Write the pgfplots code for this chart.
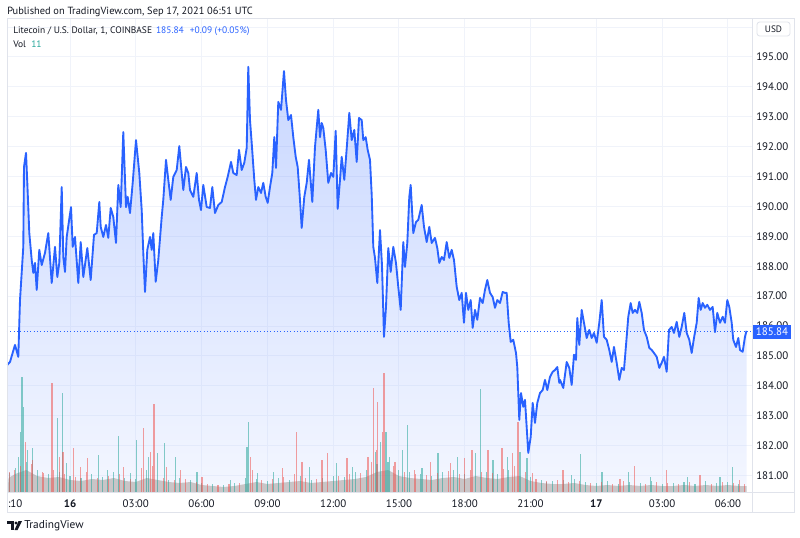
\documentclass[border=0pt]{standalone}
\usepackage{fontspec}
\setmainfont{PT Sans}
\usepackage{pgfplots}
\pgfplotsset{compat=1.18}
\usepackage{pgfplotstable}

\definecolor{tvblue}{RGB}{41,98,255}
\definecolor{txt}{RGB}{19,23,34}
\definecolor{gridc}{RGB}{240,243,250}
\definecolor{framec}{RGB}{224,227,235}
\definecolor{volup}{RGB}{38,166,154}
\definecolor{voldn}{RGB}{239,83,80}
\definecolor{areabot}{RGB}{211,223,255}

\pgfplotstableread{
h p
-2.859 184.70
-2.736 184.80
-2.508 185.37
-2.358 184.97
-2.280 186.87
-2.130 188.65
-2.098 191.32
-2.006 191.79
-1.947 190.79
-1.856 189.11
-1.746 188.21
-1.674 187.78
-1.596 188.11
-1.518 187.21
-1.400 188.55
-1.290 188.04
-1.140 188.45
-0.990 189.11
-0.834 187.44
-0.684 188.65
-0.579 187.64
-0.488 188.11
-0.378 190.65
-0.306 188.31
-0.228 187.81
-0.150 188.98
0.046 189.98
0.123 188.65
0.228 188.98
0.378 187.44
0.488 188.81
0.606 187.64
0.789 188.61
0.944 187.54
1.094 189.05
1.218 189.11
1.336 190.15
1.400 189.32
1.518 188.98
1.642 189.38
1.746 188.95
1.856 189.95
1.974 189.65
2.098 188.78
2.202 190.72
2.312 189.98
2.430 192.49
2.554 189.98
2.631 190.32
2.736 189.78
2.859 190.79
3.010 192.22
3.160 191.12
3.270 189.88
3.342 188.45
3.420 187.14
3.525 188.55
3.648 188.98
3.726 188.55
3.798 189.11
3.908 187.48
4.026 188.21
4.182 189.65
4.254 190.22
4.378 191.56
4.482 190.89
4.592 190.22
4.710 190.99
4.866 191.22
4.984 192.02
5.094 191.12
5.166 190.55
5.290 191.32
5.394 191.12
5.472 190.55
5.622 190.32
5.778 191.12
5.882 190.22
5.974 189.88
6.078 190.72
6.234 189.98
6.384 189.95
6.489 190.65
6.612 189.78
6.762 190.05
6.918 190.15
7.068 190.65
7.191 190.99
7.342 191.49
7.446 191.12
7.602 191.05
7.706 191.89
7.830 191.22
7.948 191.46
8.058 191.96
8.130 194.67
8.208 192.89
8.286 192.12
8.404 190.89
8.482 190.22
8.586 190.65
8.710 190.45
8.814 190.79
8.924 190.32
9.015 190.12
9.120 190.65
9.225 191.12
9.316 192.32
9.394 191.29
9.498 193.50
9.622 193.23
9.758 194.53
9.850 193.56
9.954 192.89
10.078 193.06
10.182 192.32
10.292 191.66
10.383 191.32
10.488 190.22
10.566 189.28
10.684 190.32
10.794 190.79
10.898 191.56
11.049 190.15
11.172 191.99
11.322 193.23
11.400 192.32
11.478 192.79
11.550 192.63
11.660 191.89
11.778 190.79
11.902 191.12
12.006 190.99
12.116 192.53
12.207 189.92
12.312 190.89
12.390 191.66
12.508 190.89
12.631 192.06
12.736 193.13
12.846 192.22
12.964 192.56
13.074 191.49
13.178 192.96
13.302 192.89
13.374 192.22
13.484 192.32
13.575 191.89
13.680 191.56
13.758 190.39
13.830 188.65
13.908 188.28
14.013 187.44
14.136 189.21
14.227 188.04
14.318 185.64
14.410 186.64
14.514 188.61
14.624 187.81
14.742 188.65
14.866 188.11
14.970 187.31
15.080 186.54
15.198 188.81
15.276 187.98
15.381 188.78
15.472 190.32
15.536 190.72
15.654 189.11
15.778 189.48
15.882 189.55
16.038 190.05
16.142 189.32
16.266 188.81
16.384 189.32
16.494 188.78
16.644 188.95
16.749 188.61
16.840 188.11
16.950 188.31
17.054 188.21
17.178 188.81
17.296 188.28
17.406 188.55
17.510 188.21
17.634 187.31
17.752 186.87
17.862 187.11
17.966 186.11
18.058 187.11
18.162 186.54
18.272 186.87
18.363 185.94
18.468 186.54
18.573 186.21
18.696 186.94
18.819 186.77
18.924 187.21
19.029 187.54
19.152 187.11
19.275 186.97
19.380 186.61
19.485 186.87
19.608 186.77
19.731 187.14
19.836 187.11
19.914 187.11
20.005 186.11
20.096 185.47
20.214 185.54
20.338 185.10
20.397 184.63
20.488 182.86
20.566 183.76
20.670 183.30
20.748 183.53
20.853 182.29
20.898 181.76
21.008 182.29
21.099 183.43
21.204 182.76
21.309 183.43
21.432 183.76
21.555 183.86
21.660 184.20
21.765 183.86
21.888 184.30
22.011 184.47
22.116 184.53
22.221 184.63
22.312 184.10
22.344 184.20
22.494 183.93
22.650 184.80
22.768 184.60
22.878 184.03
22.982 185.04
23.074 184.87
23.133 186.27
23.224 185.37
23.334 186.54
23.438 186.11
23.562 185.60
23.680 185.87
23.790 185.60
23.894 185.77
24.018 185.44
24.136 186.11
24.246 186.87
24.350 185.64
24.474 185.54
24.592 185.20
24.702 184.80
24.806 185.30
24.930 184.77
25.048 184.20
25.158 184.60
25.262 184.53
25.386 185.64
25.458 186.31
25.568 186.77
25.659 186.44
25.764 186.54
25.869 186.44
25.960 186.81
26.070 186.44
26.174 185.87
26.298 185.64
26.416 185.27
26.526 185.20
26.630 185.10
26.754 184.97
26.872 184.60
26.982 184.77
27.086 184.97
27.210 184.47
27.314 185.87
27.438 185.97
27.542 185.77
27.666 186.14
27.784 185.64
27.894 185.97
28.012 186.44
28.122 185.77
28.240 185.54
28.350 185.10
28.454 185.60
28.578 186.11
28.669 186.94
28.760 186.54
28.851 186.77
28.956 186.61
29.061 186.71
29.184 186.54
29.307 186.64
29.412 185.80
29.517 186.44
29.640 186.11
29.763 186.31
29.868 186.11
29.973 186.87
30.064 186.64
30.174 186.11
30.246 185.54
30.370 185.30
30.474 185.60
30.552 185.20
30.675 185.14
30.780 185.64
30.850 185.84
}\price

\pgfplotstableread{
h v
-2.85 0
-2.8 14
-2.5 18
-2.0 22
-1.5 16
-1.0 14
-0.5 15
0 12
0.5 11
1.0 13
1.5 12
2.0 14
2.5 11
3.0 10
3.5 14
4.0 12
4.5 10
5.0 9
5.5 10
6.0 7
6.5 6
7.0 5
7.5 6
8.0 8
8.5 10
9.0 8
9.5 9
10 10
10.5 11
11 9
11.5 10
12 11
12.5 12
13 13
13.5 15
14 20
14.5 22
15 16
15.5 14
16 13
16.5 12
17 14
17.5 15
18 13
18.5 16
19 14
19.5 13
20 15
20.5 16
21 11
21.5 9
22 8
22.5 8
23 9
23.5 7
24 6
24.5 7
25 6
25.5 7
26 6
26.5 7
27 6
27.5 6
28 7
28.5 6
29 7
29.5 6
30 7
30.5 6
30.85 6
30.85 0
}\volbase

\pgfplotstableread{
h v
-2.5 24
-2.0 30
-1.5 22
-1.0 18
-0.5 20
0 16
0.5 14
1.0 18
1.5 15
2.0 20
2.5 14
3.0 13
3.5 22
4.0 16
4.5 12
5.0 14
5.5 12
6.0 9
6.5 8
7.0 7
7.5 9
8.0 14
8.5 13
9.0 11
9.5 14
10 12
10.5 16
11 12
11.5 14
12 16
12.5 15
13 20
13.5 22
14 28
14.5 30
15 22
15.5 20
16 18
16.5 16
17 20
17.5 22
18 18
18.5 24
19 20
19.5 18
20 22
20.5 24
21 15
21.5 12
22 11
22.5 12
23 13
23.5 10
24 9
24.5 11
25 8
25.5 10
26 9
26.5 11
27 8
27.5 9
28 10
28.5 8
29 11
29.5 9
30 10
30.5 8
-2.78 19
-2.33 35
-2.24 60
-2.19 115
-2.12 85
-1.92 42
-1.69 44
-0.59 74
-0.36 99
-0.14 29
1.32 37
1.69 22
2.23 56
2.74 19
3.05 52
3.56 35
3.97 39
4.29 49
4.83 35
5.79 20
7.30 12
8.07 45
8.12 70
8.57 19
9.26 20
10.94 25
12.17 29
12.90 25
13.91 40
14.14 50
14.41 60
14.59 35
15.18 42
15.41 67
16.05 24
16.78 39
17.69 35
18.51 39
18.74 103
19.29 32
19.93 35
20.52 40
20.84 34
21.75 10
22.89 17
23.26 38
24.26 20
25.45 20
26.45 15
28.14 15
29.64 15
30.19 25
}\volteal

\pgfplotstableread{
h v
-2.75 20
-2.25 26
-1.75 28
-1.25 20
-0.75 22
-0.25 18
0.25 15
0.75 20
1.25 14
1.75 16
2.25 18
2.75 13
3.25 24
3.75 26
4.25 14
4.75 12
5.25 13
5.75 10
6.25 8
6.75 7
7.25 8
7.75 9
8.25 16
8.75 12
9.25 13
9.75 15
10.25 18
10.75 14
11.25 13
11.75 18
12.25 16
12.75 18
13.25 19
13.75 30
14.25 34
14.75 26
15.25 20
15.75 18
16.25 17
16.75 19
17.25 21
17.75 18
18.25 22
18.75 20
19.25 19
19.75 23
20.25 26
20.75 20
21.25 13
21.75 11
22.25 12
22.75 10
23.25 11
23.75 9
24.25 10
24.75 8
25.25 11
25.75 9
26.25 8
26.75 10
27.25 9
27.75 8
28.25 10
28.75 9
29.25 8
29.75 10
30.25 9
30.75 8
-2.55 22
-2.05 50
-1.73 32
-1.23 19
-0.82 109
-0.46 35
-0.32 40
0.14 44
0.46 25
0.78 34
2.46 25
3.37 64
3.69 40
3.83 88
4.42 25
5.02 22
6.02 15
8.21 35
8.34 22
9.71 24
10.31 60
10.58 30
11.49 32
11.76 39
12.63 34
13.59 35
13.82 104
14.00 42
14.04 90
14.23 60
14.32 119
14.82 30
15.73 22
16.42 30
17.33 29
18.01 34
18.33 42
19.06 42
19.70 44
20.16 39
20.43 70
21.07 19
22.48 22
25.08 13
25.76 26
27.22 22
28.73 17
30.55 12
}\volred

\pgfplotsset{
  tvaxis/.style={
    at={(5.25pt,-369pt)}, anchor=south west, scale only axis,
    width=558.75pt, height=354.75pt,
    xmin=-2.873, xmax=31.10,
  }
}

\begin{document}
\begin{tikzpicture}
\fill[white] (0,0) rectangle (600pt,-403.5pt);

% layer 1: grid, ticks, area
\begin{axis}[tvaxis,
  ymin=180.45, ymax=196.27,
  xtick={0,3,6,9,12,15,18,21,24,27,30},
  xticklabels={\textbf{16},03:00,06:00,09:00,12:00,15:00,18:00,21:00,\textbf{17},03:00,06:00},
  extra x ticks={-2.5}, extra x tick labels={:10},
  extra x tick style={grid=none},
  ytick={181,182,...,196},
  yticklabel pos=right,
  grid=major,
  major grid style={gridc, line width=0.75pt},
  major tick length=0pt,
  axis line style={framec, line width=0.75pt},
  tick label style={font=\fontsize{8.2}{9}\selectfont, text=txt},
  xticklabel style={anchor=center, yshift=-8.5pt},
  yticklabel style={anchor=west, inner sep=0pt, xshift=3pt,
    /pgf/number format/fixed, /pgf/number format/fixed zerofill,
    /pgf/number format/precision=2},
  /pgf/number format/assume math mode=true,
]
\addplot[draw=none, top color=tvblue, bottom color=areabot, fill opacity=0.25]
  table {\price} -- (axis cs:30.85,180.45) -- (axis cs:-2.859,180.45) -- cycle;
\end{axis}

% layer 2: volume
\begin{axis}[tvaxis, ymin=0, ymax=473, hide axis]
\addplot[fill=volup!50!voldn, fill opacity=0.4, draw=none] table {\volbase} \closedcycle;
\addplot[ycomb, mark=none, volup, line width=0.8pt, draw opacity=0.55] table {\volteal};
\addplot[ycomb, mark=none, voldn, line width=0.8pt, draw opacity=0.55] table {\volred};
\end{axis}

% layer 3: price line
\begin{axis}[tvaxis, ymin=180.45, ymax=196.27, hide axis]
\addplot[tvblue, line width=0.5pt, dotted] coordinates {(-2.873,185.84) (31.10,185.84)};
\addplot[tvblue, line width=1.4pt, line join=round] table {\price};
\end{axis}

\begin{scope}[x=0.75pt, y=-0.75pt]
  \draw[framec, line width=0.75pt] (7,19) rectangle (794,512);
  \draw[framec, line width=0.75pt] (752,19) -- (752,512);
  \draw[framec, line width=0.75pt] (7,492) -- (794,492);
  % USD box
  \draw[framec, fill=white, rounded corners=2pt, line width=0.6pt] (757,22) rectangle (790,36);
  \node[text=txt, inner sep=0pt, font=\fontsize{7}{8}\selectfont] at (773.5,29) {USD};
  % last price box
  \fill[tvblue] (753,325) rectangle (791,339);
  \node[text=white, inner sep=0pt, font=\fontsize{8.2}{9}\selectfont] at (772,332) {185.84};
  % header
  \node[anchor=west, inner sep=0pt, text=txt, font=\fontsize{7.8}{9}\selectfont] at (7,12)
    {Published on TradingView.com, Sep 17, 2021 06:51 UTC};
  \node[anchor=west, inner sep=0pt, text=txt, font=\fontsize{7.1}{8.5}\selectfont] at (13,31)
    {Litecoin / U.S. Dollar, 1, COINBASE\hspace{3pt}\textcolor{tvblue}{185.84\hspace{4.5pt}+0.09 (+0.05\%)}};
  \node[anchor=west, inner sep=0pt, text=txt, font=\fontsize{7.1}{8.5}\selectfont] at (13,44)
    {Vol\hspace{4pt}\textcolor{volup}{11}};
  % logo
  \fill[txt] (7,521) rectangle (14,524);
  \fill[txt] (10.5,521) rectangle (13.5,530);
  \fill[txt] (16,523) circle (1.6);
  \fill[txt] (18.5,521) -- (22,521) -- (17.5,530) -- (14.5,530) -- cycle;
  \node[anchor=west, inner sep=0pt, text=txt, font=\fontsize{8.5}{10}\selectfont] at (24,525.5) {TradingView};
\end{scope}
\pgfresetboundingbox
\path[use as bounding box] (0,0) rectangle (600pt,-403.5pt);
\end{tikzpicture}
\end{document}
